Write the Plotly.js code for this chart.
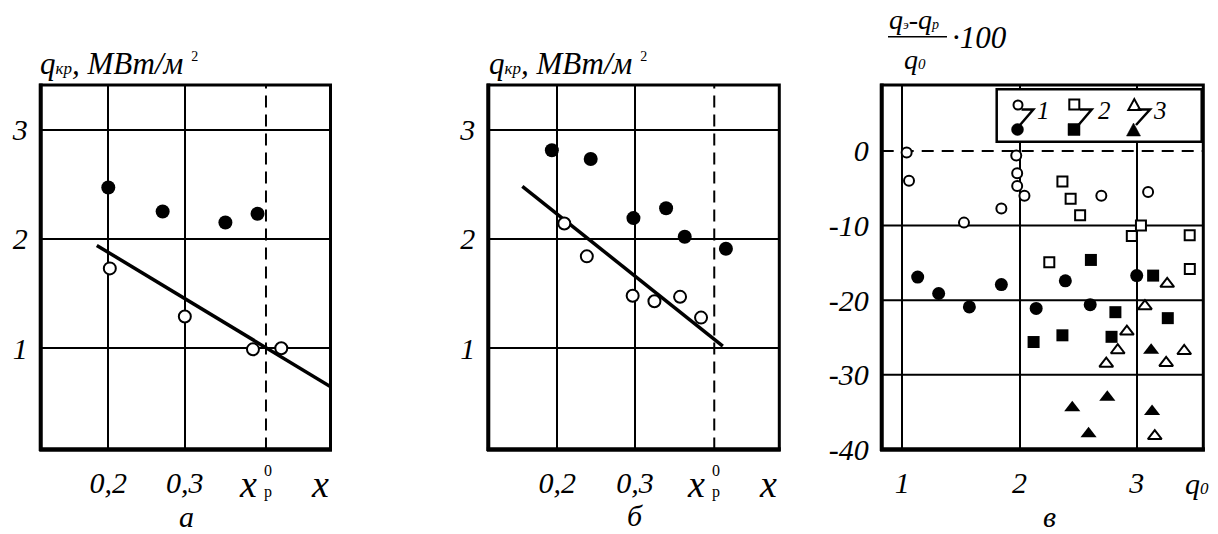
<!DOCTYPE html>
<html><head><meta charset="utf-8">
<script src="https://cdn.plot.ly/plotly-3.0.1.min.js"></script>
<style>html,body{margin:0;padding:0;background:#fff}#chart{width:1218px;height:534px}</style>
</head><body><div id="chart"></div>
<script>
// ================= DATA =================
// panels а and б: q_кр vs x
const xTickValsAB = [0.2, 0.3];
const xTickTextAB = ['0,2', '0,3'];
const yTickValsAB = [1, 2, 3];
const yTickTextAB = ['1', '2', '3'];

// panel а
const aFilledX = [0.200, 0.271, 0.353, 0.395];
const aFilledY = [2.47, 2.25, 2.15, 2.23];
const aOpenX   = [0.202, 0.300, 0.389, 0.426];
const aOpenY   = [1.73, 1.29, 0.99, 1.00];
const aLineX   = [0.185, 0.490];
const aLineY   = [1.94, 0.65];
const aXp      = 0.406;   // x_p^0
const aXEnd    = 0.476;   // position of the "x" axis label

// panel б
const bFilledX = [0.193, 0.243, 0.298, 0.340, 0.364, 0.417];
const bFilledY = [2.81, 2.73, 2.19, 2.28, 2.02, 1.91];
const bOpenX   = [0.209, 0.238, 0.297, 0.325, 0.358, 0.385];
const bOpenY   = [2.14, 1.84, 1.48, 1.43, 1.47, 1.28];
const bLineX   = [0.155, 0.413];
const bLineY   = [2.48, 1.02];
const bXp      = 0.402;
const bXEnd    = 0.4716;

// panel в: (qэ-qр)/q0*100 vs q0
const cXTickVals = [1, 2, 3];
const cXTickText = ['1', '2', '3'];
const cYTickVals = [0, -10, -20, -30, -40];
const cYTickText = ['0', '-10', '-20', '-30', '-40'];
const cYGridSolid = [-10, -20, -30];
const cYGridDashed = [0];

const s1OpenX   = [1.037, 1.057, 1.526, 1.845, 1.972, 1.980, 1.980, 2.042, 2.698, 3.097];
const s1OpenY   = [-0.2, -4.0, -9.6, -7.7, -0.6, -3.0, -4.7, -6.0, -6.0, -5.5];
const s1FilledX = [1.131, 1.310, 1.572, 1.845, 2.142, 2.391, 2.603, 3.000];
const s1FilledY = [-16.9, -19.1, -20.9, -17.9, -21.1, -17.4, -20.6, -16.7];
const s2OpenX   = [2.366, 2.436, 2.517, 2.958, 3.036, 2.254, 3.452, 3.453];
const s2OpenY   = [-4.1, -6.4, -8.6, -11.4, -10.0, -14.9, -11.3, -15.8];
const s2FilledX = [2.609, 3.140, 2.818, 3.265, 2.120, 2.366, 2.785];
const s2FilledY = [-14.6, -16.7, -21.6, -22.4, -25.6, -24.7, -24.9];
const s3OpenX   = [3.260, 3.070, 2.916, 2.838, 2.740, 3.251, 3.405, 3.154];
const s3OpenY   = [-17.8, -20.8, -24.2, -26.7, -28.5, -28.4, -26.8, -38.2];
const s3FilledX = [3.123, 2.450, 2.749, 2.589, 3.131];
const s3FilledY = [-26.7, -34.4, -33.0, -37.9, -34.9];

const legendLabels = ['1', '2', '3'];

// ================= LAYOUT HELPERS =================
const W = 1218, H = 534;
const PX = v => v / W, PY = v => 1 - v / H;
const FONT = 'Liberation Serif';
const tickFont = {family: FONT, size: 30, style: 'italic', color: '#000'};
const yDom = [PY(449.5), PY(85)];

function xAxis(dom, range, vals, text, anchor) {
  return {domain: dom, range: range, anchor: anchor, tickmode: 'array', tickvals: vals, ticktext: text,
    showgrid: true, gridcolor: '#000', gridwidth: 2, zeroline: false, showline: false,
    ticks: '', tickfont: tickFont, ticklabelstandoff: 12, fixedrange: true};
}
function yAxis(dom, range, vals, text, anchor, grid) {
  return {domain: dom, range: range, anchor: anchor, tickmode: 'array', tickvals: vals, ticktext: text,
    showgrid: grid, gridcolor: '#000', gridwidth: 2, zeroline: false, showline: false,
    ticks: '', tickfont: tickFont, ticklabelstandoff: 12, fixedrange: true};
}

const openM = (sym, size) => ({symbol: sym, size: size, color: '#fff', line: {color: '#000', width: 2}});
const fillM = (sym, size) => ({symbol: sym, size: size, color: '#000', line: {color: '#000', width: 0}});

function pts(x, y, xa, ya, marker) {
  return {type: 'scatter', mode: 'markers', x: x, y: y, xaxis: xa, yaxis: ya, marker: marker,
    hoverinfo: 'skip', showlegend: false, cliponaxis: false};
}
function line(x, y, xa, ya) {
  return {type: 'scatter', mode: 'lines', x: x, y: y, xaxis: xa, yaxis: ya,
    line: {color: '#000', width: 3.5}, hoverinfo: 'skip', showlegend: false};
}

// ================= TRACES =================
const traces = [
  line(aLineX, aLineY, 'x', 'y'),
  pts(aOpenX, aOpenY, 'x', 'y', openM('circle', 12)),
  pts(aFilledX, aFilledY, 'x', 'y', fillM('circle', 14)),

  line(bLineX, bLineY, 'x2', 'y2'),
  pts(bOpenX, bOpenY, 'x2', 'y2', openM('circle', 12)),
  pts(bFilledX, bFilledY, 'x2', 'y2', fillM('circle', 14)),

  pts(s1OpenX, s1OpenY, 'x3', 'y3', openM('circle', 10)),
  pts(s1FilledX, s1FilledY, 'x3', 'y3', fillM('circle', 13)),
  pts(s2OpenX, s2OpenY, 'x3', 'y3', openM('square', 10)),
  pts(s2FilledX, s2FilledY, 'x3', 'y3', fillM('square', 12)),
  pts(s3OpenX, s3OpenY, 'x3', 'y3', openM('triangle-up', 12)),
  pts(s3FilledX, s3FilledY, 'x3', 'y3', fillM('triangle-up', 14)),
  // empty trace so that the pixel overlay axes (x4/y4) exist
  {type: 'scatter', mode: 'markers', x: [], y: [], xaxis: 'x4', yaxis: 'y4', showlegend: false, hoverinfo: 'skip'}
];

// ================= SHAPES =================
const shapes = [];
[['x', 'y'], ['x2', 'y2'], ['x3', 'y3']].forEach(([xa, ya]) => {
  const xr = xa + ' domain', yr = ya + ' domain';
  shapes.push({type: 'rect', xref: xr, yref: yr, x0: 0, x1: 1, y0: 0, y1: 1, line: {color: '#000', width: 3}, layer: 'above'});
  shapes.push({type: 'line', xref: xr, yref: yr, x0: 0, x1: 0, y0: -0.004, y1: 1.004, line: {color: '#000', width: 4}, layer: 'above'});
  shapes.push({type: 'line', xref: xr, yref: yr, x0: -0.005, x1: 1.005, y0: 0, y1: 0, line: {color: '#000', width: 4.5}, layer: 'above'});
});
shapes.push({type: 'line', xref: 'x', yref: 'y domain', x0: aXp, x1: aXp, y0: 0, y1: 1, line: {color: '#000', width: 2, dash: '12px,7px'}, layer: 'below'});
shapes.push({type: 'line', xref: 'x2', yref: 'y2 domain', x0: bXp, x1: bXp, y0: 0, y1: 1, line: {color: '#000', width: 2, dash: '12px,7px'}, layer: 'below'});
cYGridSolid.forEach(v => shapes.push({type: 'line', xref: 'x3 domain', yref: 'y3', x0: 0, x1: 1, y0: v, y1: v, line: {color: '#000', width: 2}, layer: 'below'}));
cYGridDashed.forEach(v => shapes.push({type: 'line', xref: 'x3 domain', yref: 'y3', x0: 0, x1: 1, y0: v, y1: v, line: {color: '#000', width: 2, dash: '12px,8px'}, layer: 'below'}));
// fraction bar of panel в title
shapes.push({type: 'line', xref: 'paper', yref: 'paper', x0: PX(888), x1: PX(947), y0: PY(36.7), y1: PY(36.7), line: {color: '#000', width: 1.5}});

// custom legend of panel в (pixel coordinates on overlay axes x4/y4)
const L = (o) => shapes.push(Object.assign({xref: 'x4', yref: 'y4', layer: 'above'}, o));
L({type: 'rect', x0: 996.7, x1: 1201.7, y0: 89.3, y1: 141.7, fillcolor: '#fff', line: {color: '#000', width: 2.5}});
const legOpenC = [1018, 105], legFillC = [1017.5, 129.5];
const legOpenS = [1074.3, 104.5], legFillS = [1074, 129.5];
const legOpenT = [1134.3, 105], legFillT = [1133.5, 130];
L({type: 'circle', x0: legOpenC[0] - 4.5, x1: legOpenC[0] + 4.5, y0: legOpenC[1] - 4.5, y1: legOpenC[1] + 4.5, fillcolor: '#fff', line: {color: '#000', width: 2}});
L({type: 'circle', x0: legFillC[0] - 6, x1: legFillC[0] + 6, y0: legFillC[1] - 6, y1: legFillC[1] + 6, fillcolor: '#000', line: {color: '#000', width: 0.5}});
L({type: 'rect', x0: legOpenS[0] - 5, x1: legOpenS[0] + 5, y0: legOpenS[1] - 5, y1: legOpenS[1] + 5, fillcolor: '#fff', line: {color: '#000', width: 2}});
L({type: 'rect', x0: legFillS[0] - 6, x1: legFillS[0] + 6, y0: legFillS[1] - 6, y1: legFillS[1] + 6, fillcolor: '#000', line: {color: '#000', width: 0.5}});
L({type: 'path', path: `M${legOpenT[0] - 6},${legOpenT[1] + 5} L${legOpenT[0] + 6},${legOpenT[1] + 5} L${legOpenT[0]},${legOpenT[1] - 6} Z`, fillcolor: '#fff', line: {color: '#000', width: 2}});
L({type: 'path', path: `M${legFillT[0] - 7},${legFillT[1] + 6} L${legFillT[0] + 7},${legFillT[1] + 6} L${legFillT[0]},${legFillT[1] - 7} Z`, fillcolor: '#000', line: {color: '#000', width: 0.5}});
[[1021.5, 1033.3, 1020], [1080, 1091.7, 1078.5], [1137.5, 1150, 1136]].forEach(b =>
  L({type: 'path', path: `M${b[0]},109.5 L${b[1]},109.5 L${b[2]},125`, line: {color: '#000', width: 2.5}}));

// ================= ANNOTATIONS =================
const annotations = [];
function ann(text, x, y, size, opts) {
  annotations.push(Object.assign({text: text, x: PX(x), y: PY(y), xref: 'paper', yref: 'paper',
    xanchor: 'center', yanchor: 'middle', showarrow: false,
    font: {family: FONT, size: size, color: '#000'}}, opts || {}));
}
const titleQ = '<i>q</i><span style="font-size:17px"><i>кр</i></span><i>, МВт/м</i> <sup><span style="font-size:14px">2</span></sup>';
ann(titleQ, 38, 64, 31, {xanchor: 'left'});
ann(titleQ, 487, 64, 31, {xanchor: 'left'});
ann('<i>q</i><span style="font-size:13px"><i>э</i></span><i>-q</i><span style="font-size:14px"><i>р</i></span>', 887, 20, 28, {xanchor: 'left'});
ann('<i>·100</i>', 950, 38, 31, {xanchor: 'left'});
ann('<i>q</i><span style="font-size:15px"><i>0</i></span>', 902, 59, 28, {xanchor: 'left'});

// x_p^0 labels and end-of-axis labels
function xpLabel(xa, xp) {
  annotations.push({text: '<i>x</i>', x: xp, xref: xa, y: PY(484), yref: 'paper', xshift: -18,
    showarrow: false, xanchor: 'center', yanchor: 'middle', font: {family: FONT, size: 38, color: '#000'}});
  annotations.push({text: '0', x: xp, xref: xa, y: PY(470), yref: 'paper', xshift: 2,
    showarrow: false, xanchor: 'center', yanchor: 'middle', font: {family: FONT, size: 16, color: '#000'}});
  annotations.push({text: 'р', x: xp, xref: xa, y: PY(492), yref: 'paper', xshift: 2,
    showarrow: false, xanchor: 'center', yanchor: 'middle', font: {family: FONT, size: 16, color: '#000'}});
}
xpLabel('x', aXp);
xpLabel('x2', bXp);
annotations.push({text: '<i>x</i>', x: aXEnd, xref: 'x', y: PY(484), yref: 'paper', showarrow: false,
  xanchor: 'center', yanchor: 'middle', font: {family: FONT, size: 38, color: '#000'}});
annotations.push({text: '<i>x</i>', x: bXEnd, xref: 'x2', y: PY(484), yref: 'paper', showarrow: false,
  xanchor: 'center', yanchor: 'middle', font: {family: FONT, size: 38, color: '#000'}});
ann('<i>q</i><span style="font-size:17px"><i>0</i></span>', 1197, 483, 30);

// panel letters
ann('<i>а</i>', 186, 516, 30);
ann('<i>б</i>', 635, 515, 30);
ann('<i>в</i>', 1049, 516, 30);

// legend labels
const legLabelX = [1043, 1104, 1160];
legendLabels.forEach((t, i) => ann('<i>' + t + '</i>', legLabelX[i], 110, 25));

// ================= LAYOUT =================
const layout = {
  width: W, height: H, margin: {l: 0, r: 0, t: 0, b: 0},
  paper_bgcolor: '#fff', plot_bgcolor: 'rgba(0,0,0,0)', showlegend: false,
  xaxis:  xAxis([PX(40.7), PX(330.5)], [0.1117, 0.4903], xTickValsAB, xTickTextAB, 'y'),
  yaxis:  yAxis(yDom, [0.074, 3.407], yTickValsAB, yTickTextAB, 'x', true),
  xaxis2: xAxis([PX(488.3), PX(779.3)], [0.1112, 0.4857], xTickValsAB, xTickTextAB, 'y2'),
  yaxis2: yAxis(yDom, [0.074, 3.407], yTickValsAB, yTickTextAB, 'x2', true),
  xaxis3: xAxis([PX(881.7), PX(1203.3)], [0.824, 3.568], cXTickVals, cXTickText, 'y3'),
  yaxis3: yAxis(yDom, [-40, 8.84], cYTickVals, cYTickText, 'x3', false),
  xaxis4: {domain: [0, 1], range: [0, W], anchor: 'y4', visible: false, fixedrange: true},
  yaxis4: {domain: [0, 1], range: [H, 0], anchor: 'x4', visible: false, fixedrange: true},
  shapes: shapes, annotations: annotations
};

Plotly.newPlot('chart', traces, layout, {staticPlot: true, displayModeBar: false});
</script>
</body></html>
